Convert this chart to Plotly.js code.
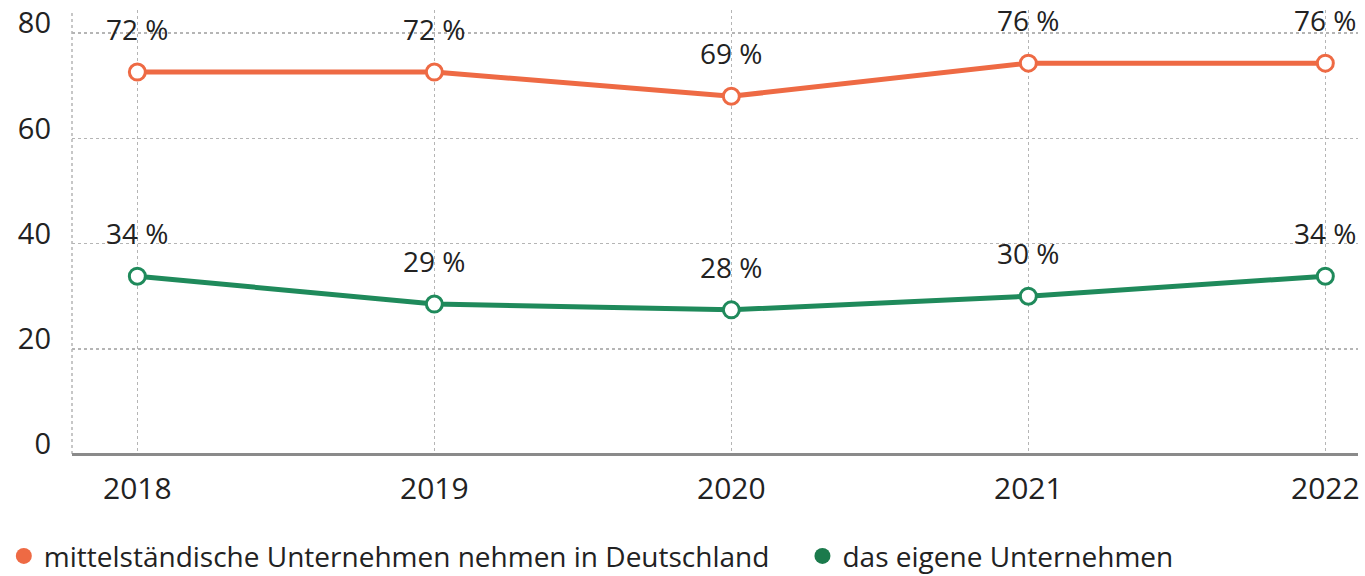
<!DOCTYPE html>
<html>
<head>
<meta charset="utf-8">
<script src="https://cdn.plot.ly/plotly-3.0.1.min.js"></script>
<style>html,body{margin:0;padding:0;background:#fff}#chart{width:1365px;height:576px}</style>
</head>
<body>
<div id="chart"></div>
<script>
const years = [2018, 2019, 2020, 2021, 2022];
const seriesNames = ["mittelständische Unternehmen nehmen in Deutschland", "das eigene Unternehmen"];
const valuesDeutschland = [72.6, 72.6, 68, 74.3, 74.3];
const labelsDeutschland = ["72 %", "72 %", "69 %", "76 %", "76 %"];
const valuesEigene = [33.8, 28.5, 27.4, 30, 33.8];
const labelsEigene = ["34 %", "29 %", "28 %", "30 %", "34 %"];
const yTicks = [0, 20, 40, 60, 80];

const ORANGE = "#ee6a44";
const GREEN = "#1f8a5b";
const GREEN_LEG = "#1b7a4c";
const FONT = "Open Sans, Liberation Sans, Arial, sans-serif";
const TXT = "#222222";

function lineTrace(x, y, color) {
  return {
    x: x, y: y, type: "scatter", mode: "lines+markers", showlegend: false, hoverinfo: "skip",
    line: {color: color, width: 5},
    marker: {size: 16, color: "#ffffff", line: {color: color, width: 3}}
  };
}
function legendTrace(name, color, legendId) {
  return {x: [null], y: [null], type: "scatter", mode: "markers", name: name, legend: legendId,
    marker: {size: 16, color: color}};
}
const traces = [
  lineTrace(years, valuesDeutschland, ORANGE),
  lineTrace(years, valuesEigene, GREEN),
  legendTrace(seriesNames[0], ORANGE, "legend"),
  legendTrace(seriesNames[1], GREEN_LEG, "legend2")
];

const annotations = [];
function addLabels(xs, ys, labels) {
  xs.forEach((x, i) => annotations.push({
    x: x, y: ys[i], text: labels[i], showarrow: false, xanchor: "center", yanchor: "middle",
    yshift: 43, font: {family: FONT, size: 28, color: TXT}
  }));
}
addLabels(years, valuesDeutschland, labelsDeutschland);
addLabels(years, valuesEigene, labelsEigene);

function legendBox(x) {
  return {orientation: "h", x: x, xanchor: "left", y: -0.174, yanchor: "top",
    font: {family: FONT, size: 28, color: TXT}, itemclick: false, itemdoubleclick: false,
    bgcolor: "rgba(0,0,0,0)"};
}

const layout = {
  width: 1365, height: 576,
  margin: {l: 72, r: 7, t: 10, b: 122, autoexpand: false},
  paper_bgcolor: "#ffffff", plot_bgcolor: "#ffffff",
  font: {family: FONT, size: 28, color: TXT},
  xaxis: {
    range: [2017.78, 2022.11], tickvals: years, ticktext: years.map(String),
    showgrid: true, gridcolor: "#b5b5b5", gridwidth: 1.5, griddash: "dot",
    zeroline: false, showline: false, ticks: "", ticklabelstandoff: 14, automargin: false,
    tickfont: {family: FONT, size: 30, color: TXT}, fixedrange: true
  },
  yaxis: {
    range: [0, 84.4], tickvals: yTicks,
    showgrid: true, gridcolor: "#b5b5b5", gridwidth: 1.5, griddash: "dot",
    zeroline: true, zerolinecolor: "#8a8a8a", zerolinewidth: 3,
    showline: false, ticks: "", ticklabelstandoff: 20, ticklabelshift: -10, automargin: false,
    tickfont: {family: FONT, size: 29, color: TXT}, fixedrange: true
  },
  shapes: [{type: "line", xref: "paper", yref: "paper", x0: 0, x1: 0, y0: 0, y1: 1,
    line: {color: "#b5b5b5", width: 1.5, dash: "dot"}, layer: "below"}],
  annotations: annotations,
  showlegend: true,
  legend: legendBox(-0.053),
  legend2: legendBox(0.568)
};
Plotly.newPlot("chart", traces, layout, {displayModeBar: false, staticPlot: true});
</script>
</body>
</html>
